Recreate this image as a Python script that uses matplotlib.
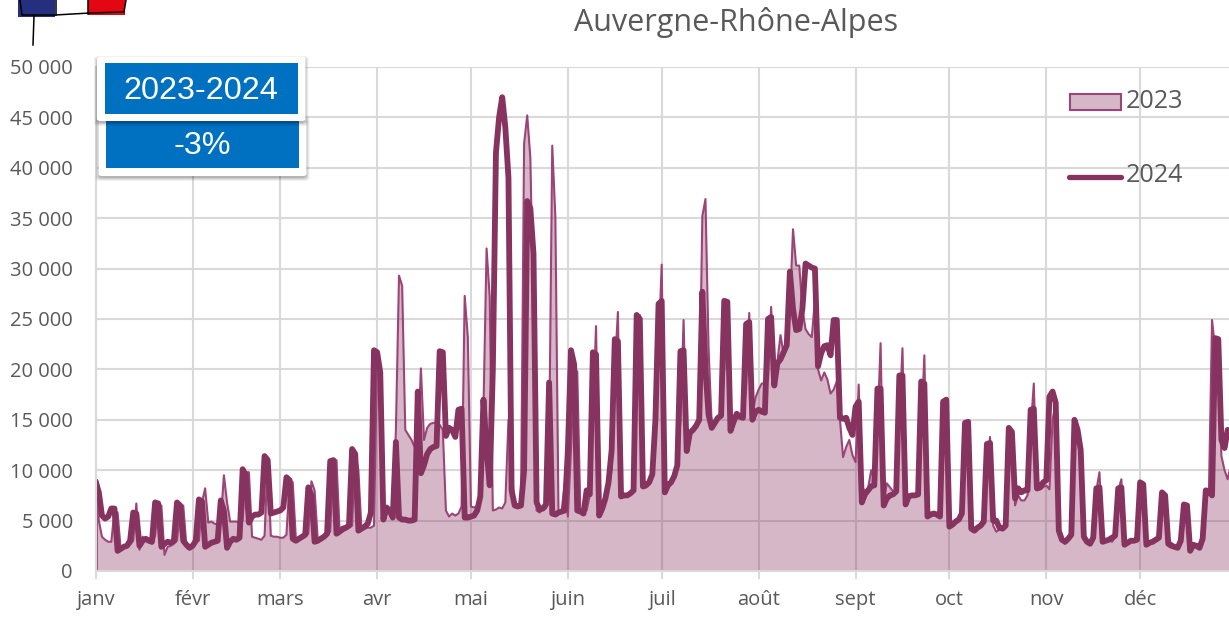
import matplotlib
matplotlib.use("Agg")
import matplotlib.pyplot as plt
from matplotlib.patches import Rectangle, FancyBboxPatch
from matplotlib.lines import Line2D

title = "Auvergne-Rhône-Alpes"
months = ["janv", "févr", "mars", "avr", "mai", "juin", "juil", "août", "sept", "oct", "nov", "déc"]
month_starts = [0, 31, 59, 90, 120, 151, 181, 212, 243, 273, 304, 334]
y_ticks = [0, 5000, 10000, 15000, 20000, 25000, 30000, 35000, 40000, 45000, 50000]
y_labels = ["0", "5 000", "10 000", "15 000", "20 000", "25 000", "30 000", "35 000", "40 000", "45 000", "50 000"]

values_2023 = [
    8800,5000,3400,3100,2900,2900,6000,5800,2100,2300,
    2400,2600,3000,6700,2100,3400,3100,2900,2700,3500,
    6500,6500,1600,2400,2500,2700,3000,6300,6500,2500,
    2600,2500,2800,3000,6800,8200,4800,4900,4700,4600,
    5000,9500,6800,4900,4900,4900,4800,5000,9800,9800,
    3400,3300,3200,3100,3500,11000,3500,3400,3400,3300,
    3300,3600,9000,8800,3300,3100,3200,3400,3700,8900,
    8000,3200,3300,3500,3700,3900,10900,11000,3900,3900,
    4100,4300,4500,11800,10000,4100,4200,4300,4300,4500,
    21000,18000,5000,5600,6000,6000,14000,29300,28300,14000,
    13500,13000,12300,12300,20100,13000,14200,14600,14700,14700,
    14500,14000,6000,5400,5700,5500,5700,6400,27300,23200,
    6400,6300,6400,7500,16000,32000,27200,6000,6100,6300,
    6200,6800,15000,10000,6500,6400,6500,42400,45200,41000,
    25000,6000,5800,6300,6200,12000,42200,35100,5800,6000,
    8700,5400,12000,20000,19800,5800,5800,6000,7500,15000,
    24300,7000,6200,7000,8500,10000,20000,25700,7500,7500,
    7500,7700,8000,25000,25400,8200,8300,8700,9600,14000,
    22000,30400,8500,8700,9000,9400,10500,15000,24900,12000,
    13700,14000,14400,15000,35200,36900,22000,14500,14700,15200,
    15400,20000,24300,14000,14800,15600,15300,15300,18000,25600,
    15500,17200,18000,18600,18600,19000,26200,19000,20800,23400,
    21500,22400,26000,33900,30300,30300,26000,24000,23500,23200,
    26900,20000,18900,19700,19000,17600,18000,18800,15000,11300,
    12300,13000,11500,10800,18500,8500,7800,8200,10000,9000,
    14000,22600,7000,8700,8300,7900,7900,15000,22100,7000,
    7400,7500,7500,7600,14000,21400,5500,5600,5700,5600,
    5500,15000,17000,4500,4700,4800,5200,6000,14000,14800,
    4300,4100,4300,4500,4800,10000,13300,4500,3900,4100,
    4200,4500,12000,14000,6500,7500,7000,7000,7500,14000,
    18600,8000,8100,8300,8500,8100,15000,16700,4300,3300,
    2700,3000,3500,14500,13500,12000,3600,3000,2800,3400,
    8000,9800,3000,3000,3100,2900,3300,8000,9100,2700,
    2700,2900,3000,3100,8500,8600,2700,2800,2900,3100,
    3300,7700,7500,2900,2800,2500,2400,3000,6400,6500,
    2100,2500,2400,2300,3000,7800,7800,24900,22000,20000,
    11400,10000,9100,10500,10000,
]

values_2024 = [
    8900,7800,5500,5200,5400,6200,6200,2000,2200,2400,
    2500,3000,5800,5700,2500,3000,3200,3000,2900,6800,
    6700,2400,2700,2900,2800,3000,6800,6500,3000,2600,
    2300,2500,3000,7100,6900,2400,2600,2800,2900,3000,
    7000,6000,2300,2900,3200,3100,3300,10100,9500,4800,
    5400,5600,5600,5800,11400,11000,5700,5800,5900,6000,
    6300,9300,9000,3200,3000,3200,3400,3600,8300,7500,
    2900,3000,3200,3400,3700,10900,11000,3700,3900,4200,
    4300,4500,12100,11600,4000,4200,4400,4700,5800,21900,
    21700,19700,5100,6300,6000,5300,12800,5300,5100,5100,
    5000,5000,5100,17800,9700,10500,11600,12100,12300,12400,
    21800,21700,13400,14200,14000,13300,16000,16100,5300,5300,
    5400,5500,6000,7400,17000,12000,8500,20000,41500,45000,
    47000,44000,39000,8000,6500,6400,6500,10000,36700,36000,
    31500,6800,6100,6200,6600,18700,5700,5600,5800,5900,
    6000,12000,21900,20500,6000,5900,5700,8000,7600,21700,
    21500,5500,6200,7200,8800,12000,23000,22800,7400,7500,
    7500,7700,8000,25400,25000,8400,8500,8800,9600,15000,
    26500,26800,7800,8500,8800,9400,10500,21800,21900,11900,
    13700,14000,14400,15000,27700,20000,15500,14200,14700,15200,
    15400,26800,26700,13900,14800,15600,15300,15200,24500,24700,
    15000,15800,16000,15800,15700,25000,25200,18400,20600,21000,
    21700,22400,29700,26000,23900,24000,26000,30500,30300,30100,
    30000,20300,21600,22300,22400,21400,24900,24900,15200,15100,
    15200,14200,13500,16300,16800,6800,7600,8000,8400,8500,
    18100,18100,6500,7200,7500,7600,7900,19400,19400,6600,
    7400,7500,7500,7600,18800,18600,5400,5600,5700,5600,
    5400,16800,17000,4400,4600,4900,5100,5700,14700,14800,
    4200,4000,4300,4500,4900,12600,12700,5000,5000,4300,
    4200,4500,14200,13800,7200,8200,7800,8000,8000,16000,
    16100,8200,8300,8800,9000,17300,17800,16700,4000,3100,
    2900,3200,3600,15000,14000,12000,3400,2900,2700,3300,
    8200,8300,2900,3000,3100,3300,3500,8200,8300,2600,
    2800,3000,3000,3100,8800,8600,2600,2800,2900,3100,
    3300,7800,7500,2700,2500,2400,2300,3000,6600,6500,
    2000,2600,2500,2300,3200,8000,7900,7500,23100,23000,
    13000,12200,14000,13500,13000,
]

W, H = 1229, 617
GRID = "#D9D9D9"
TXT = "#595959"
C23 = "#9C4478"
C24 = "#86335F"
BLUE = "#0070C0"
FONT = ["Open Sans", "DejaVu Sans"]

fig = plt.figure(figsize=(W / 100, H / 100), dpi=100, facecolor="white")
ax = fig.add_axes([95.7 / W, 1 - 571 / H, (W - 95.7) / W, (571 - 67) / H])
days = list(range(len(values_2023)))

ax.set_xlim(0, (W - 95.7) / 3.127)
ax.set_ylim(0, 50000)
ax.set_axisbelow(True)
ax.grid(True, color=GRID, lw=1.5)
for s in ["top", "right"]:
    ax.spines[s].set_visible(False)
for s in ["left", "bottom"]:
    ax.spines[s].set_color(GRID)
    ax.spines[s].set_linewidth(1.5)

ax.fill_between(days, values_2023, 0, color=(136 / 255, 50 / 255, 96 / 255, 0.35), lw=0)
ax.plot(days, values_2023, color=C23, lw=1.5, solid_joinstyle="round")
ax.vlines(0, 0, values_2023[0], color=C23, lw=2)
ax.plot(days, values_2024, color=C24, lw=4.2, solid_joinstyle="round", solid_capstyle="round")

ax.set_xticks(month_starts)
ax.set_xticklabels(months, family=FONT, fontsize=14.5, color=TXT)
ax.set_yticks(y_ticks)
ax.set_yticklabels(y_labels, family=FONT, fontsize=14.5, color=TXT)
ax.tick_params(axis="x", length=5.5, width=1.5, color=GRID, pad=8)
ax.tick_params(axis="y", length=0, pad=16.5)

def fx(x):
    return x / W

def fy(y):
    return 1 - y / H

fig.text(fx(736), fy(23), title, family=FONT, fontsize=22, color=TXT, ha="center", va="center")

# legend
fig.add_artist(Rectangle((fx(1069.5), fy(110)), 51 / W, 16.5 / H, transform=fig.transFigure,
                         facecolor="#D5B7C7", edgecolor=C23, lw=1.5))
fig.text(fx(1126), fy(102), "2023", family=FONT, fontsize=18.2, color=TXT, va="center")
fig.add_artist(Line2D([fx(1069), fx(1121)], [fy(176.5), fy(176.5)], transform=fig.transFigure,
                      color=C24, lw=3.8, solid_capstyle="round"))
fig.text(fx(1126), fy(176), "2024", family=FONT, fontsize=18.2, color=TXT, va="center")

# boxes with soft shadow
def card(x0, y0, x1, y1, z):
    for grow, alpha in ((4, 0.05), (3, 0.07), (2, 0.09), (1, 0.11)):
        fig.add_artist(FancyBboxPatch((fx(x0 - grow + 1), fy(y1 + grow + 1)),
                                      (x1 - x0 + 2 * grow - 2) / W, (y1 - y0 + 2 * grow - 2) / H,
                                      boxstyle="round,pad=0,rounding_size=0.004", transform=fig.transFigure,
                                      facecolor="black", edgecolor="none", alpha=alpha, zorder=z))
    fig.add_artist(FancyBboxPatch((fx(x0), fy(y1)), (x1 - x0) / W, (y1 - y0) / H,
                                  boxstyle="round,pad=0,rounding_size=0.003", transform=fig.transFigure,
                                  facecolor="white", edgecolor="none", zorder=z + 0.1))

card(98.5, 118, 306.5, 176, 5)
fig.add_artist(Rectangle((fx(106), fy(168)), 193 / W, 48 / H, transform=fig.transFigure,
                         facecolor=BLUE, edgecolor="none", zorder=5.2))
fig.text(fx(202.5), fy(146), "-3%", family=["Liberation Sans"], fontsize=23.3, color="white",
         ha="center", va="center", zorder=5.3)
card(97, 57, 305.5, 121, 6)
fig.add_artist(Rectangle((fx(105), fy(113.5)), 193 / W, 50.5 / H, transform=fig.transFigure,
                         facecolor=BLUE, edgecolor="none", zorder=6.2))
fig.text(fx(201), fy(91), "2023-2024", family=["Liberation Sans"], fontsize=23.3, color="white",
         ha="center", va="center", zorder=6.3)

# flag sketch
fig.add_artist(Rectangle((fx(18), fy(17)), 37 / W, 17 / H, transform=fig.transFigure,
                         facecolor="#24307F", edgecolor="none"))
fig.add_artist(Rectangle((fx(88), fy(15)), 37 / W, 15 / H, transform=fig.transFigure,
                         facecolor="#E30613", edgecolor="none"))
sketch = dict(transform=fig.transFigure, color="black", lw=1.1)
fig.add_artist(Line2D([fx(20), fx(22), fx(55), fx(90), fx(124), fx(126)],
                      [fy(0), fy(15), fy(15), fy(13), fy(12), fy(0)], **sketch))
fig.add_artist(Line2D([fx(56), fx(56)], [fy(0), fy(15)], **sketch))
fig.add_artist(Line2D([fx(88), fx(88)], [fy(0), fy(14)], **sketch))
fig.add_artist(Line2D([fx(34), fx(33)], [fy(16), fy(45)], **sketch))

fig.savefig("out.png", dpi=100)
